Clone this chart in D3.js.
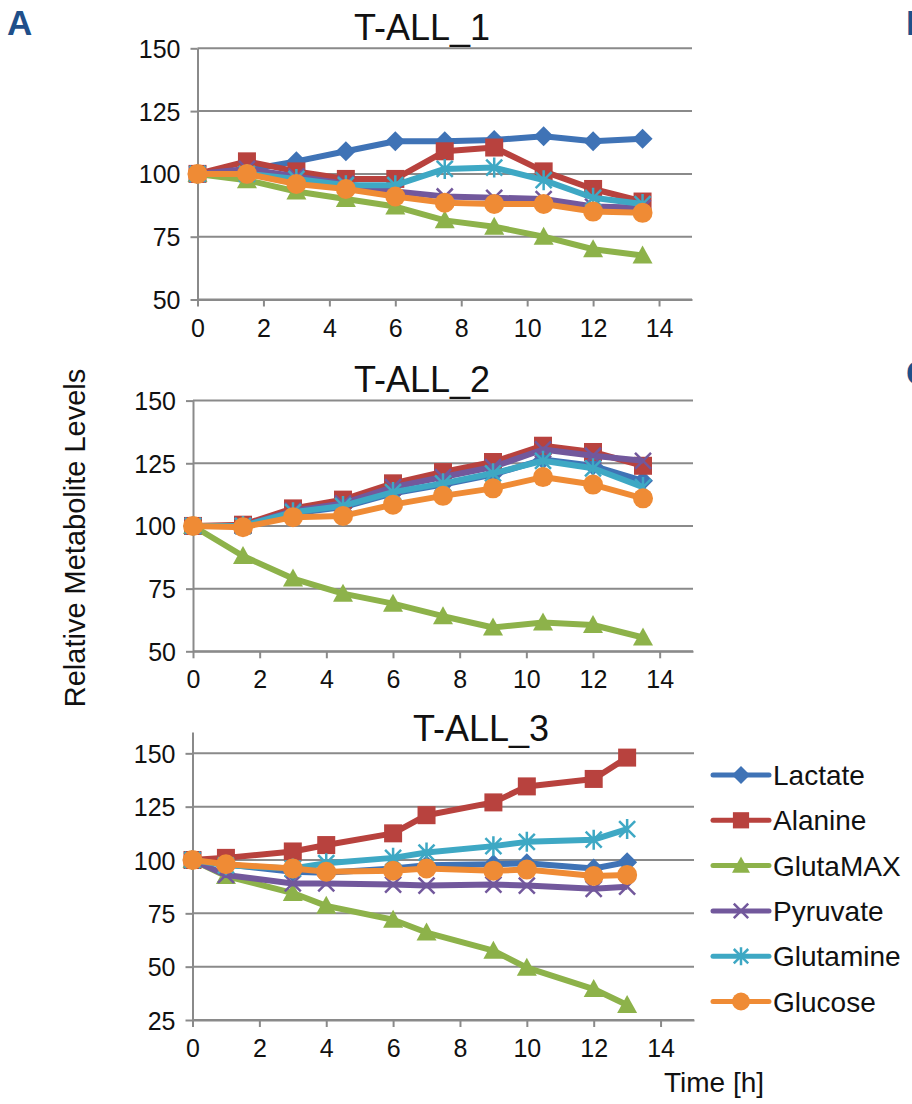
<!DOCTYPE html>
<html>
<head>
<meta charset="utf-8">
<script src="https://cdn.jsdelivr.net/npm/d3@7"></script>
<style>
  html, body { margin: 0; padding: 0; background: #fff; }
  svg { display: block; font-family: "Liberation Sans", Arial, sans-serif; }
</style>
</head>
<body>
<svg id="chart" width="912" height="1104"></svg>
<script>
// Sampling times (hours)
const timesA = [0, 1.5, 3, 4.5, 6, 7.5, 9, 10.5, 12, 13.5];
const timesC = [0, 1, 3, 4, 6, 7, 9, 10, 12, 13];

const seriesNames = ["Lactate", "Alanine", "GlutaMAX", "Pyruvate", "Glutamine", "Glucose"];
const seriesColors = ["#3f73b6", "#b8423e", "#8db24a", "#72589c", "#3ea8c4", "#ef8b35"];
const seriesMarkers = ["diamond", "square", "triangle", "cross", "star", "circle"];

const xTicks = [0, 2, 4, 6, 8, 10, 12, 14];
const yTicksA = [50, 75, 100, 125, 150];
const yTicksC = [25, 50, 75, 100, 125, 150];

// T-ALL_1
const lactate1   = [100, 101.5, 105, 109, 113, 113, 113.5, 115, 113, 114];
const alanine1   = [100, 105, 101, 98, 98, 109, 110.5, 101, 94, 89];
const glutamax1  = [100, 97.5, 93, 90, 87, 81.5, 79, 75, 70, 67.5];
const pyruvate1  = [100, 102, 99, 96, 93, 91, 90.5, 90, 87, 86.5];
const glutamine1 = [100, 100, 98, 95.5, 95.5, 102, 102.5, 97.5, 90.5, 88];
const glucose1   = [100, 100, 96, 94, 91, 88.5, 88, 88, 85, 84.5];

// T-ALL_2
const lactate2   = [100, 100, 105, 107.5, 113, 116.5, 120.5, 126.5, 124, 118];
const alanine2   = [100, 100.5, 107, 110.5, 117, 121.5, 125.5, 132, 129.5, 124];
const glutamax2  = [100, 88, 79, 73, 69, 64, 59.5, 61.5, 60.5, 55.5];
const pyruvate2  = [100, 100, 106, 109, 115.5, 119.5, 123.5, 130.5, 128, 126];
const glutamine2 = [100, 100, 105.5, 108, 113.5, 117, 121, 126, 123, 115.5];
const glucose2   = [100, 99.5, 103.5, 104, 108.5, 112, 115, 119.5, 116.5, 111];

// T-ALL_3
const lactate3   = [100, 98, 94.5, 94, 96, 97.5, 98, 98.5, 96, 99];
const alanine3   = [100, 101, 104, 107, 112.5, 121, 127, 134.5, 138, 148];
const glutamax3  = [100, 92.5, 84.5, 78.5, 72, 66, 57.5, 49.5, 39.5, 32];
const pyruvate3  = [100, 93, 89, 89, 88.5, 88, 88.5, 88, 86.5, 87.5];
const glutamine3 = [100, 97.5, 96, 98.5, 101, 103.5, 106.5, 108.5, 109.5, 114.5];
const glucose3   = [100, 98, 96, 94.5, 95, 96, 95, 95.5, 92.5, 93];

const svg = d3.select("#chart");
svg.append("rect").attr("width", 912).attr("height", 1104).attr("fill", "#fff");

const GRID = "#8a8a8a";

function drawMarker(g, type, color, x, y, s) {
  s = s || 1;
  const r = 10 * s;
  if (type === "diamond") {
    g.append("path").attr("d", `M${x},${y - r}L${x + r},${y}L${x},${y + r}L${x - r},${y}Z`).attr("fill", color);
  } else if (type === "square") {
    g.append("rect").attr("x", x - 9 * s).attr("y", y - 9 * s).attr("width", 18 * s).attr("height", 18 * s).attr("fill", color);
  } else if (type === "triangle") {
    g.append("path").attr("d", `M${x},${y - 10 * s}L${x + 10 * s},${y + 8 * s}L${x - 10 * s},${y + 8 * s}Z`).attr("fill", color);
  } else if (type === "cross" || type === "star") {
    const d = 8 * s;
    let p = `M${x - d},${y - d}L${x + d},${y + d}M${x - d},${y + d}L${x + d},${y - d}`;
    if (type === "star") p += `M${x},${y - 10 * s}L${x},${y + 10 * s}`;
    g.append("path").attr("d", p).attr("stroke", color).attr("stroke-width", 2.5).attr("fill", "none");
  } else if (type === "circle") {
    g.append("circle").attr("cx", x).attr("cy", y).attr("r", r).attr("fill", color);
  }
}

function drawPanel(cfg) {
  const x = d3.scaleLinear().domain([0, 15]).range([cfg.left, cfg.right]);
  const y = d3.scaleLinear().domain(cfg.yDomain).range([cfg.bottom, cfg.top]);
  const g = svg.append("g");

  // horizontal gridlines
  g.selectAll("line.grid").data(cfg.yTicks).join("line")
    .attr("x1", cfg.left).attr("x2", cfg.right)
    .attr("y1", d => y(d)).attr("y2", d => y(d))
    .attr("stroke", GRID).attr("stroke-width", 2);

  // y axis
  const ya = g.append("g").attr("transform", `translate(${cfg.left},0)`)
    .call(d3.axisLeft(y).tickValues(cfg.yTicks).tickSize(7).tickSizeOuter(0).tickPadding(10));
  // x axis
  const xa = g.append("g").attr("transform", `translate(0,${cfg.bottom})`)
    .call(d3.axisBottom(x).tickValues(xTicks).tickSize(7).tickSizeOuter(0).tickPadding(12));
  [ya, xa].forEach(a => {
    a.select(".domain").attr("stroke", GRID).attr("stroke-width", 2);
    a.selectAll(".tick line").attr("stroke", GRID).attr("stroke-width", 2);
    a.selectAll(".tick text").attr("fill", "#111").attr("font-size", 25)
      .attr("font-family", "Liberation Sans, Arial, sans-serif");
  });
  ya.selectAll(".tick text").attr("dy", "0.36em");
  xa.selectAll(".tick text").attr("dy", "0.72em");

  // title
  svg.append("text").attr("x", cfg.titleX).attr("y", cfg.titleY)
    .attr("text-anchor", "middle").attr("font-size", 36).attr("fill", "#111")
    .text(cfg.title);

  // series: line then markers, in legend order
  cfg.series.forEach((vals, i) => {
    const pts = vals.map((v, j) => [x(cfg.times[j]), y(v)]);
    g.append("path").attr("d", d3.line()(pts))
      .attr("fill", "none").attr("stroke", seriesColors[i])
      .attr("stroke-width", 6).attr("stroke-linejoin", "round");
    pts.forEach(p => drawMarker(g, seriesMarkers[i], seriesColors[i], p[0], p[1]));
  });
}

drawPanel({
  title: "T-ALL_1", titleX: 422, titleY: 40,
  left: 197.5, right: 692, top: 48.3, bottom: 299.5,
  yDomain: [50, 150], yTicks: yTicksA, times: timesA,
  series: [lactate1, alanine1, glutamax1, pyruvate1, glutamine1, glucose1]
});

drawPanel({
  title: "T-ALL_2", titleX: 422, titleY: 392,
  left: 193, right: 693, top: 400.6, bottom: 651.3,
  yDomain: [50, 150], yTicks: yTicksA, times: timesA,
  series: [lactate2, alanine2, glutamax2, pyruvate2, glutamine2, glucose2]
});

drawPanel({
  title: "T-ALL_3", titleX: 481, titleY: 741,
  left: 192.5, right: 694, top: 732, bottom: 1020,
  yDomain: [25, 160], yTicks: yTicksC, times: timesC,
  series: [lactate3, alanine3, glutamax3, pyruvate3, glutamine3, glucose3]
});

// legend
const legend = svg.append("g");
seriesNames.forEach((name, i) => {
  const cy = 775 + i * 45.3;
  legend.append("line").attr("x1", 713).attr("x2", 769).attr("y1", cy).attr("y2", cy)
    .attr("stroke", seriesColors[i]).attr("stroke-width", 5).attr("stroke-linecap", "round");
  drawMarker(legend, seriesMarkers[i], seriesColors[i], 741, cy, 0.9);
  legend.append("text").attr("x", 773).attr("y", cy).attr("dy", "0.36em")
    .attr("font-size", 28).attr("fill", "#111").text(name);
});

// axis titles
svg.append("text").attr("transform", "translate(85,538) rotate(-90)")
  .attr("text-anchor", "middle").attr("font-size", 29).attr("fill", "#111")
  .text("Relative Metabolite Levels");
svg.append("text").attr("x", 714).attr("y", 1092).attr("text-anchor", "middle")
  .attr("font-size", 28).attr("fill", "#111").text("Time [h]");

// panel letters (B and C belong to neighbouring panels at the right edge)
[["A", 7, 35], ["B", 906, 35], ["C", 906, 385]].forEach(([t, lx, ly]) => {
  svg.append("text").attr("x", lx).attr("y", ly).attr("font-size", 35)
    .attr("font-family", "'Liberation Sans Narrow', 'Liberation Sans', Arial, sans-serif")
    .attr("font-weight", "bold").attr("fill", "#1f4f8a").text(t);
});
</script>
</body>
</html>
